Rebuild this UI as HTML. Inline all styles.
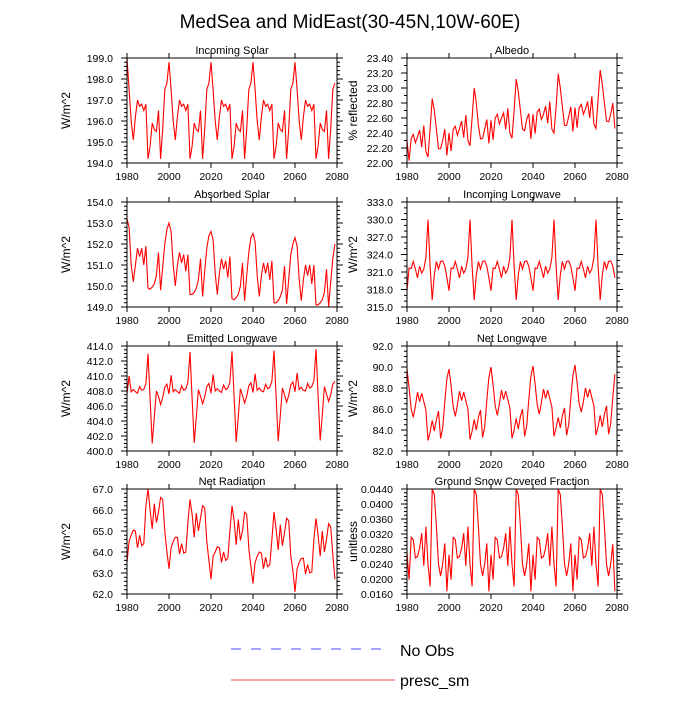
<!DOCTYPE html>
<html><head><meta charset="utf-8"><style>
html,body{margin:0;padding:0;background:#fff;}
svg text{font-family:"Liberation Sans",sans-serif;fill:#000;}
</style></head><body>
<svg id="chart" width="700" height="700" viewBox="0 0 700 700" xmlns="http://www.w3.org/2000/svg">
<text x="350" y="28" font-size="19" text-anchor="middle">MedSea and MidEast(30-45N,10W-60E)</text>
<g id="panels"></g>
<g>
<line x1="231" y1="649" x2="389" y2="649" stroke="#4a4aff" stroke-width="1" stroke-dasharray="10,10"/>
<text x="400" y="656" font-size="16">No Obs</text>
<line x1="231" y1="680" x2="395" y2="680" stroke="#ff4a4a" stroke-width="1"/>
<text x="400" y="686" font-size="16">presc_sm</text>
</g>
</svg>
<script>
const years = [];
for (let y = 1980; y < 2080; y++) years.push(y);
const xTicks = [1980, 2000, 2020, 2040, 2060, 2080];

const incomingSolar = [
199.0,197.5,196.0,195.1,196.2,197.0,196.7,196.8,196.5,196.8,194.2,194.8,195.9,195.6,195.5,196.5,194.2,195.6,197.5,197.8,
198.8,197.5,196.0,195.1,196.2,197.0,196.7,196.8,196.5,196.8,194.2,194.8,195.9,195.6,195.5,196.5,194.2,195.6,197.5,197.8,
198.8,197.5,196.0,195.1,196.2,197.0,196.7,196.8,196.5,196.8,194.2,194.8,195.9,195.6,195.5,196.5,194.2,195.6,197.5,197.8,
198.8,197.5,196.0,195.1,196.2,197.0,196.7,196.8,196.5,196.8,194.2,194.8,195.9,195.6,195.5,196.5,194.2,195.6,197.5,197.8,
198.8,197.5,196.0,195.1,196.2,197.0,196.7,196.8,196.5,196.8,194.2,194.8,195.9,195.6,195.5,196.5,194.2,195.6,197.5,197.8];
const albedo = [
22.30,22.03,22.33,22.38,22.27,22.35,22.44,22.21,22.50,22.15,
22.08,22.45,22.86,22.70,22.45,22.19,22.19,22.30,22.45,22.10,
22.40,22.16,22.45,22.49,22.37,22.46,22.56,22.34,22.64,22.30,
22.23,22.60,23.00,22.80,22.50,22.32,22.33,22.45,22.58,22.26,
22.57,22.31,22.60,22.65,22.52,22.60,22.67,22.45,22.73,22.40,
22.33,22.70,23.12,22.95,22.70,22.45,22.43,22.58,22.66,22.32,
22.65,22.39,22.68,22.72,22.58,22.65,22.76,22.53,22.82,22.45,
22.40,22.75,23.19,23.00,22.75,22.50,22.50,22.62,22.75,22.42,
22.74,22.47,22.74,22.78,22.65,22.72,22.82,22.60,22.89,22.52,
22.46,22.85,23.24,23.05,22.80,22.56,22.55,22.65,22.80,22.46];
const absorbedSolar = [
153.2,152.8,151.0,150.2,151.0,151.8,151.4,151.8,151.0,151.9,149.9,149.85,149.95,150.1,150.5,151.6,149.8,150.9,152.0,152.7,
153.0,152.6,151.0,150.0,151.0,151.6,151.1,151.5,150.7,151.5,149.6,149.6,149.7,149.9,150.3,151.3,149.5,150.7,151.8,152.4,
152.6,152.2,150.6,149.6,150.6,151.3,150.8,151.2,150.4,151.4,149.4,149.35,149.45,149.6,150.0,151.1,149.3,150.5,151.6,152.3,
152.5,152.1,150.5,149.5,150.5,151.1,150.6,151.1,150.3,151.2,149.2,149.2,149.3,149.5,149.8,150.95,149.15,150.3,151.5,152.0,
152.3,151.9,150.3,149.3,150.3,151.0,150.5,151.0,150.1,151.0,149.1,149.1,149.2,149.35,149.7,150.8,149.0,150.2,151.3,152.0];
const incomingLongwave = [
317.8,321.7,321.6,322.8,321.5,320.0,322.0,320.8,321.5,323.5,330.0,322.0,316.2,320.5,322.8,321.5,322.8,322.9,322.0,320.0,
317.8,321.7,321.6,322.8,321.5,320.0,322.0,320.8,321.5,323.5,330.0,322.0,316.2,320.5,322.8,321.5,322.8,322.9,322.0,320.0,
317.8,321.7,321.6,322.8,321.5,320.0,322.0,320.8,321.5,323.5,330.0,322.0,316.2,320.5,322.8,321.5,322.8,322.9,322.0,320.0,
317.8,321.7,321.6,322.8,321.5,320.0,322.0,320.8,321.5,323.5,330.0,322.0,316.2,320.5,322.8,321.5,322.8,322.9,322.0,320.0,
317.8,321.7,321.6,322.8,321.5,320.0,322.0,320.8,321.5,323.5,330.0,322.0,316.2,320.5,322.8,321.5,322.8,322.9,322.0,320.0];
const emittedLongwave = [
407.6,410.0,407.9,408.2,407.9,407.7,408.6,408.1,408.2,409.0,413.0,407.0,401.0,404.5,408.0,407.3,406.2,407.1,408.5,408.9,
407.6,410.1,407.9,408.2,407.9,407.7,408.7,408.1,408.3,409.1,413.2,407.0,401.1,404.5,408.2,407.3,406.3,407.2,408.6,409.0,
407.7,410.2,408.0,408.3,408.0,407.8,408.8,408.2,408.4,409.2,413.3,407.2,401.2,404.6,408.3,407.4,406.4,407.3,408.7,409.1,
407.8,410.3,408.1,408.4,408.0,407.9,408.9,408.3,408.5,409.3,413.4,407.3,401.3,404.7,408.4,407.5,406.5,407.4,408.8,409.2,
407.9,410.4,408.2,408.5,408.1,408.0,409.0,408.4,408.6,409.4,413.6,407.4,401.4,404.8,408.6,407.6,406.6,407.5,408.9,409.3];
const netLongwave = [
89.8,88.0,86.0,85.2,86.3,87.6,86.7,87.5,86.7,85.9,83.0,83.8,84.9,83.9,85.0,85.8,83.2,84.2,86.7,88.9,
89.8,88.2,86.2,85.3,86.4,87.7,86.8,87.6,86.8,86.0,83.1,83.9,85.0,84.0,85.2,85.9,83.3,84.3,86.8,89.0,
90.0,88.3,86.3,85.4,86.5,87.8,86.9,87.7,86.9,86.1,83.2,84.0,85.1,84.1,85.3,86.0,83.4,84.4,86.9,89.1,
90.1,88.4,86.4,85.5,86.6,87.9,87.0,87.8,87.0,86.2,83.4,84.2,85.2,84.2,85.4,86.1,83.5,84.5,87.0,89.2,
90.2,88.5,86.5,85.7,86.7,88.0,87.1,87.9,87.1,86.3,83.5,84.3,85.4,84.3,85.5,86.3,83.6,84.6,87.1,89.3];
const netRadiation = [
63.5,64.5,64.8,65.05,65.0,64.2,64.8,64.3,64.4,66.2,67.0,66.0,65.1,66.3,65.4,65.9,66.6,66.5,65.0,64.0,
63.2,64.2,64.5,64.7,64.7,63.9,64.4,63.95,64.0,65.4,66.5,65.8,64.7,65.85,65.0,65.6,66.2,66.1,64.5,63.6,
62.7,63.8,64.0,64.25,64.2,63.5,64.0,63.6,63.7,65.0,66.2,65.5,64.35,65.55,64.55,65.0,65.9,65.8,64.2,63.3,
62.5,63.5,63.8,64.0,63.95,63.2,63.75,63.3,63.4,64.6,65.9,65.1,64.1,65.3,64.3,64.9,65.6,65.5,63.8,63.1,
62.1,63.2,63.5,63.7,63.7,62.95,63.4,63.0,63.05,64.6,65.6,64.8,63.8,65.0,64.0,64.6,65.35,65.2,63.9,62.7];
const snowFraction = [
0.0270,0.0198,0.0311,0.0305,0.0256,0.0260,0.0282,0.0322,0.0235,0.0340,0.0240,0.0180,0.0440,0.0425,0.0340,0.0240,0.0208,0.0240,0.0295,0.0167,
0.0265,0.0198,0.0311,0.0305,0.0256,0.0260,0.0282,0.0322,0.0235,0.0340,0.0240,0.0180,0.0440,0.0425,0.0340,0.0240,0.0208,0.0240,0.0295,0.0167,
0.0265,0.0198,0.0311,0.0305,0.0256,0.0260,0.0282,0.0322,0.0235,0.0340,0.0240,0.0180,0.0440,0.0425,0.0340,0.0240,0.0208,0.0240,0.0295,0.0167,
0.0265,0.0198,0.0311,0.0305,0.0256,0.0260,0.0282,0.0322,0.0235,0.0340,0.0240,0.0180,0.0440,0.0425,0.0340,0.0240,0.0208,0.0240,0.0295,0.0167,
0.0265,0.0198,0.0311,0.0305,0.0256,0.0260,0.0282,0.0322,0.0235,0.0340,0.0240,0.0180,0.0440,0.0425,0.0340,0.0240,0.0208,0.0240,0.0293,0.0167];

const ticksIncomingSolar = [194,195,196,197,198,199];
const ticksAlbedo = [22.0,22.2,22.4,22.6,22.8,23.0,23.2,23.4];
const ticksAbsorbed = [149,150,151,152,153,154];
const ticksIncomingLW = [315,318,321,324,327,330,333];
const ticksEmittedLW = [400,402,404,406,408,410,412,414];
const ticksNetLW = [82,84,86,88,90,92];
const ticksNetRad = [62,63,64,65,66,67];
const ticksSnow = [0.016,0.020,0.024,0.028,0.032,0.036,0.040,0.044];

const panels = [
 {name:'incoming-solar', title:'Incoming Solar', data:incomingSolar, ticks:ticksIncomingSolar, dec:1, minor:5, ylab:'W/m^2', x:127, y:58, labx:70},
 {name:'albedo', title:'Albedo', data:albedo, ticks:ticksAlbedo, dec:2, minor:2, ylab:'% reflected', x:407, y:58, labx:357},
 {name:'absorbed-solar', title:'Absorbed Solar', data:absorbedSolar, ticks:ticksAbsorbed, dec:1, minor:5, ylab:'W/m^2', x:127, y:202, labx:70},
 {name:'incoming-longwave', title:'Incoming Longwave', data:incomingLongwave, ticks:ticksIncomingLW, dec:1, minor:3, ylab:'W/m^2', x:407, y:202, labx:357},
 {name:'emitted-longwave', title:'Emitted Longwave', data:emittedLongwave, ticks:ticksEmittedLW, dec:1, minor:4, ylab:'W/m^2', x:127, y:346, labx:70},
 {name:'net-longwave', title:'Net Longwave', data:netLongwave, ticks:ticksNetLW, dec:1, minor:4, ylab:'W/m^2', x:407, y:346, labx:357},
 {name:'net-radiation', title:'Net Radiation', data:netRadiation, ticks:ticksNetRad, dec:1, minor:5, ylab:'W/m^2', x:127, y:489, labx:70},
 {name:'snow-fraction', title:'Ground Snow Covered Fraction', data:snowFraction, ticks:ticksSnow, dec:4, minor:4, ylab:'unitless', x:407, y:489, labx:357}
];
const W = 210, H = 105;
const NS = 'http://www.w3.org/2000/svg';
const root = document.getElementById('panels');
function mk(tag, attrs, parent){ const e=document.createElementNS(NS,tag); for(const k in attrs) e.setAttribute(k,attrs[k]); parent.appendChild(e); return e; }

panels.forEach(p => {
  const g = mk('g', {}, root);
  
  
  const ymin = p.ticks[0], ymax = p.ticks[p.ticks.length-1];
  const xs = v => p.x + (v - 1980) / 100 * W;
  const ys = v => p.y + H - (v - ymin) / (ymax - ymin) * H;
  let d = '';
  xTicks.forEach(t => { const x = xs(t); d += `M${x},${p.y+H}v5M${x},${p.y}v-5`; });
  for (let i=0;i<p.ticks.length;i++){
    const y = ys(p.ticks[i]);
    d += `M${p.x},${y}h-6M${p.x+W},${y}h6`;
    if (i < p.ticks.length-1){
      const step = (p.ticks[i+1]-p.ticks[i])/p.minor;
      for (let k=1;k<p.minor;k++){ const yy = ys(p.ticks[i]+k*step); d += `M${p.x},${yy}h-3M${p.x+W},${yy}h3`; }
    }
  }
  const tk = mk('path', {d:d, stroke:'#000', 'stroke-width':1, fill:'none'}, g);
  
  
  const pts = p.data.map((v,i) => xs(years[i]).toFixed(2)+','+ys(v).toFixed(2)).join(' ');
  const ln = mk('polyline', {points:pts, fill:'none', stroke:'#ff0000', 'stroke-width':1.1}, g);
  
  
  const fr = mk('rect', {x:p.x, y:p.y, width:W, height:H, fill:'none', stroke:'#000', 'stroke-width':1}, g);
  
  
  xTicks.forEach(t => {
    const tx = mk('text', {x:xs(t), y:p.y+H+17, 'font-size':10.5, 'text-anchor':'middle'}, g);
    tx.textContent = t;
    
    
  });
  p.ticks.forEach(t => {
    const tx = mk('text', {x:p.x-14, y:ys(t)+4, 'font-size':10.5, 'text-anchor':'end'}, g);
    tx.textContent = t.toFixed(p.dec);
    
    
  });
  const ti = mk('text', {x:p.x+W/2, y:p.y-4, 'font-size':11, 'text-anchor':'middle'}, g);
  ti.textContent = p.title;
  
  
  const yl = mk('text', {x:p.labx, y:p.y+H/2, 'font-size':12, 'text-anchor':'middle', transform:`rotate(-90 ${p.labx} ${p.y+H/2})`}, g);
  yl.textContent = p.ylab;
  
  
});
</script>
</body></html>
